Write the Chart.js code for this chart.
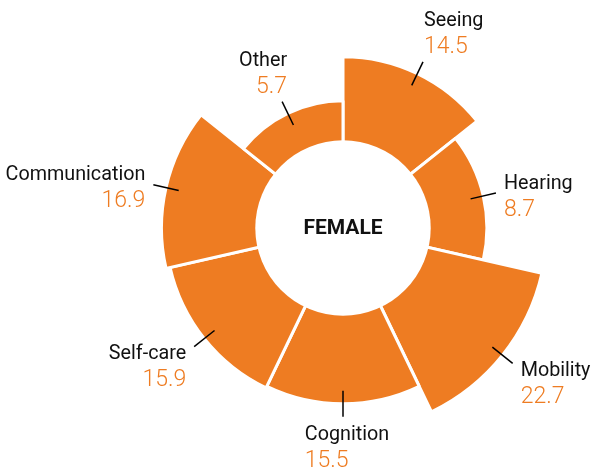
<!DOCTYPE html>
<html>
<head>
<meta charset="utf-8">
<script src="https://cdn.jsdelivr.net/npm/chart.js@4.4.0/dist/chart.umd.min.js"></script>
<style>
  html, body { margin: 0; padding: 0; background: #fff; }
  #wrap { width: 595px; height: 470px; }
</style>
</head>
<body>
<div id="wrap"><canvas id="myChart" width="595" height="470"></canvas></div>
<script>
// data, clockwise from 12 o'clock
const categories = ['Seeing', 'Hearing', 'Mobility', 'Cognition', 'Self-care', 'Communication', 'Other'];
const values = [14.5, 8.7, 22.7, 15.5, 15.9, 16.9, 5.7];
const centerLabel = 'FEMALE';

const ORANGE = '#EE7C22';
const HOLE = 0.43;        // hole radius as share of the outer radius
const SQUEEZE = 0.94;     // narrow the category names a bit
const NAME_FONT = '21px Roboto';
const VALUE_FONT = '300 23px Roboto';

// radial scale where the ring area (not the radius) grows with the value
class AreaRadialScale extends Chart.RadialLinearScale {
    getDistanceFromCenterForValue(value) {
        if (value === null || isNaN(value)) return 0;
        const frac = (value - this.min) / (this.max - this.min);
        return this.drawingArea * Math.sqrt(HOLE * HOLE + (1 - HOLE * HOLE) * frac);
    }
}
AreaRadialScale.id = 'areaRadial';
AreaRadialScale.defaults = Chart.RadialLinearScale.defaults;
Chart.register(AreaRadialScale);

const labelsPlugin = {
    id: 'labels',
    afterDatasetsDraw(chart) {
        const ctx = chart.ctx;
        const scale = chart.scales.r;
        const cx = scale.xCenter, cy = scale.yCenter;

        // hole + title
        ctx.save();
        ctx.fillStyle = '#fff';
        ctx.beginPath();
        ctx.arc(cx, cy, scale.drawingArea * HOLE, 0, Math.PI * 2);
        ctx.fill();
        ctx.fillStyle = '#111';
        ctx.font = 'bold 21px Roboto';
        ctx.textAlign = 'center';
        ctx.textBaseline = 'middle';
        ctx.fillText(centerLabel, cx, cy + 1);

        ctx.textAlign = 'left';
        ctx.textBaseline = 'alphabetic';
        const arcs = chart.getDatasetMeta(0).data;
        arcs.forEach((arc, i) => {
            const mid = (arc.startAngle + arc.endAngle) / 2;
            const dx = Math.cos(mid), dy = Math.sin(mid);
            const r = arc.outerRadius;
            const x1 = cx + dx * (r - 13), y1 = cy + dy * (r - 13);
            const x2 = cx + dx * (r + 13), y2 = cy + dy * (r + 13);
            ctx.strokeStyle = '#000';
            ctx.lineWidth = 1.5;
            ctx.beginPath();
            ctx.moveTo(x1, y1);
            ctx.lineTo(x2, y2);
            ctx.stroke();

            const name = categories[i];
            const val = values[i].toFixed(1);
            ctx.font = NAME_FONT;
            const nw = ctx.measureText(name).width * SQUEEZE;
            ctx.font = VALUE_FONT;
            const vw = ctx.measureText(val).width;
            const w = Math.max(nw, vw), h = 42;

            let left, top;
            if (Math.abs(dx) < 0.1) left = x2 - nw / 2 + 4;
            else if (Math.abs(dx) < 0.5) left = dx > 0 ? x2 + 1 : x2 + 5 - w;
            else left = dx > 0 ? x2 + 8 : x2 - 8 - w;
            if (Math.abs(dy) > 0.8) top = dy < 0 ? y2 - 9 - h : y2 + 8;
            else top = y2 + 6 + dy * 20 - h / 2;

            const alignRight = dx < -0.1;
            const nx = alignRight ? left + w - nw : left;
            const vx = alignRight ? left + w - vw : left;

            ctx.fillStyle = '#111';
            ctx.font = NAME_FONT;
            ctx.save();
            ctx.translate(nx, top + 15);
            ctx.scale(SQUEEZE, 1);
            ctx.fillText(name, 0, 0);
            ctx.restore();

            ctx.fillStyle = ORANGE;
            ctx.font = VALUE_FONT;
            ctx.fillText(val, vx, top + 42);
        });
        ctx.restore();
    }
};

const ctx = document.getElementById('myChart').getContext('2d');
const chart = new Chart(ctx, {
    type: 'polarArea',
    data: {
        labels: categories,
        datasets: [{
            data: values,
            backgroundColor: ORANGE,
            borderColor: '#fff',
            borderWidth: 3
        }]
    },
    options: {
        responsive: false,
        animation: false,
        layout: { padding: { left: 139, right: 48, top: 24, bottom: 38 } },
        plugins: {
            legend: { display: false },
            tooltip: { enabled: false }
        },
        scales: {
            r: {
                type: 'areaRadial',
                min: 0,
                max: Math.max(...values),
                startAngle: 0,
                grid: { display: false },
                angleLines: { display: false },
                ticks: { display: false },
                pointLabels: { display: false }
            }
        }
    },
    plugins: [labelsPlugin]
});
</script>
</body>
</html>
